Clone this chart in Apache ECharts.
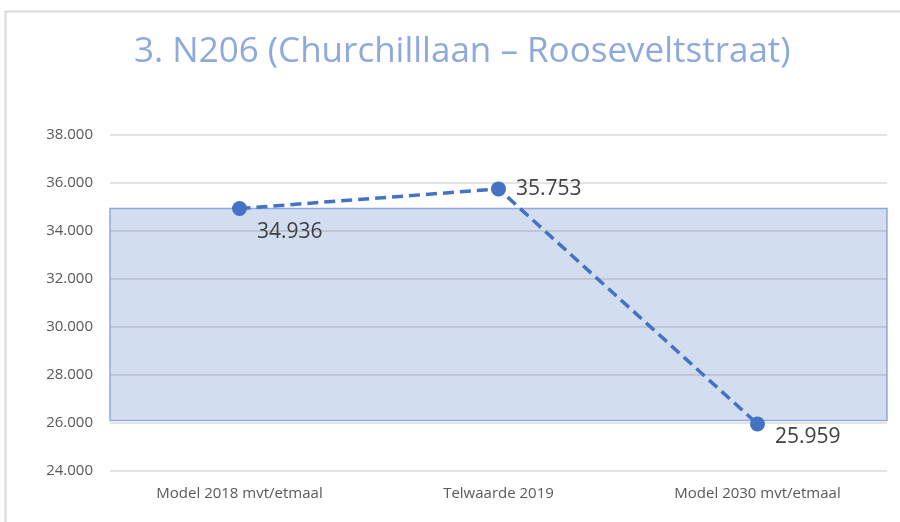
<!DOCTYPE html>
<html>
<head>
<meta charset="utf-8">
<title>N206</title>
<script src="https://cdn.jsdelivr.net/npm/echarts@6/dist/echarts.min.js"></script>
<style>
  html, body { margin: 0; padding: 0; background: #fff; }
  #chart { width: 900px; height: 522px; }
</style>
</head>
<body>
<div id="chart"></div>
<script>
  const titleText = '3. N206 (Churchilllaan \u2013 Rooseveltstraat)';
  const categories = ['Model 2018 mvt/etmaal', 'Telwaarde 2019', 'Model 2030 mvt/etmaal'];
  const values = [34936, 35753, 25959];
  // shaded band (bottom, top)
  const bandRange = [26100, 34936];
  // label offsets per point
  const labelOffsets = [[0, 23], [0, 0], [0, 13]];

  const fmtNum = v => (v / 1000).toFixed(3);

  const chart = echarts.init(document.getElementById('chart'));
  const option = {
    animation: false,
    title: {
      text: titleText,
      left: 129,
      top: 30,
      textStyle: {
        fontFamily: 'Open Sans',
        fontSize: 35,
        fontWeight: 'normal',
        color: '#8EA9DB'
      }
    },
    graphic: [{
      type: 'polyline',
      shape: {points: [[5.5, 522], [5.5, 11.5], [900, 11.5]]},
      style: {stroke: '#D9D9D9', lineWidth: 2, fill: null}
    }],
    grid: {
      left: 110,
      right: 13,
      top: 135,
      bottom: 51
    },
    xAxis: {
      type: 'category',
      data: categories,
      boundaryGap: true,
      axisLine: {show: false},
      axisTick: {show: false},
      axisLabel: {
        margin: 15,
        fontFamily: 'Open Sans',
        fontSize: 15,
        color: '#595959'
      }
    },
    yAxis: {
      type: 'value',
      min: 24000,
      max: 38000,
      interval: 2000,
      z: 3,
      axisLine: {show: false},
      axisTick: {show: false},
      axisLabel: {
        margin: 17,
        fontFamily: 'Open Sans',
        fontSize: 15,
        color: '#595959',
        formatter: v => fmtNum(v)
      },
      splitLine: {
        lineStyle: {color: 'rgba(90,90,90,0.22)', width: 1.5}
      }
    },
    series: [{
      type: 'line',
      data: values.map((v, i) => ({
        value: v,
        label: {position: 'right', offset: labelOffsets[i]}
      })),
      z: 5,
      symbol: 'circle',
      symbolSize: 15,
      itemStyle: {color: '#4472C4'},
      lineStyle: {color: '#4472C4', width: 3.5, type: [11, 6]},
      label: {
        show: true,
        distance: 10,
        fontFamily: 'Open Sans',
        fontSize: 21,
        color: '#404040',
        formatter: p => fmtNum(p.value)
      },
      markArea: {
        silent: true,
        z: 1,
        itemStyle: {
          color: '#D3DDF0',
          borderColor: '#8FAADC',
          borderWidth: 1.5
        },
        data: [[
          {xAxis: 'min', yAxis: bandRange[0], x: 110},
          {xAxis: 'max', yAxis: bandRange[1], x: 887}
        ]]
      }
    }]
  };
  chart.setOption(option);
</script>
</body>
</html>
